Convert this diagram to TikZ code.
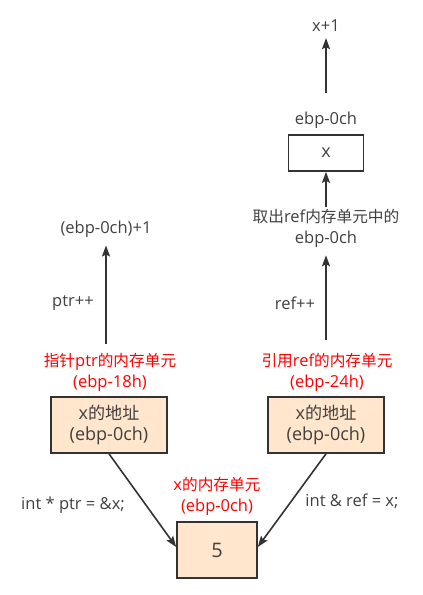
\documentclass[tikz,border=0pt]{standalone}
\usepackage{fontspec}
\setmainfont{Open Sans}
\newfontfamily\cjk[Scale=0.95]{Noto Sans CJK SC}
\usepackage{tikz}
\usetikzlibrary{arrows.meta,positioning}
\definecolor{cellfill}{HTML}{FFE6CC}
\definecolor{linegray}{HTML}{333333}
\definecolor{textgray}{HTML}{404040}
\tikzset{
  cell/.style={draw=linegray, line width=1.6pt, fill=cellfill, minimum width=116pt, minimum height=56pt, align=center, text=textgray, font=\fontsize{18}{21}\selectfont},
  plain/.style={draw=linegray, line width=1.6pt, fill=white, minimum width=75pt, minimum height=36pt, text=textgray, font=\fontsize{18}{20}\selectfont},
  redlbl/.style={text=red, align=center, font=\fontsize{16.5}{21}\selectfont, inner sep=0pt},
  lbl/.style={text=textgray, align=center, font=\fontsize{16.5}{21}\selectfont, inner sep=0pt},
  arr/.style={draw=linegray, line width=1.6pt, -{Stealth[length=11pt,width=8pt,inset=2pt]}}
}

\begin{document}
\begin{tikzpicture}[x=1pt,y=-1pt]
			\useasboundingbox (0,0) rectangle (423,595);
			
			%%%%% bottom cells %%%%%
			\node[cell] (ptrbox) at (109,425) {x{\cjk 的地址}\\(ebp-0ch)};
			\node[cell] (refbox) at (326,425) {x{\cjk 的地址}\\(ebp-0ch)};
			\node[cell, minimum width=80pt] (xbox) at (217,550) {\fontsize{20}{20}\selectfont 5};
			
			\node[redlbl] (ptrlbl) at (110,372) {{\cjk 指针}ptr{\cjk 的内存单元}\\(ebp-18h)};
			\node[redlbl] (reflbl) at (327,372) {{\cjk 引用}ref{\cjk 的内存单元}\\(ebp-24h)};
			\node[redlbl] (xlbl) at (217,496) {x{\cjk 的内存单元}\\(ebp-0ch)};
			
			\node[lbl] (ptrcode) at (73,505) {int * ptr = \&x;};
			\node[lbl] (refcode) at (352,501) {int \& ref = x;};
			
			\draw[arr] (ptrbox.south) -- ([yshift=3pt]xbox.west);
			\draw[arr] (refbox.south) -- ([yshift=3pt]xbox.east);
			
			%%%%% left column %%%%%
			\node[lbl] (ptrinc) at (73,303) {ptr++};
			\node[lbl] (ptrres) at (106,229) {(ebp-0ch)+1};
			\coordinate (ptrfoot) at (106,344);
			\draw[arr] (ptrfoot) -- ([yshift=-8pt]ptrres.south);
			
			%%%%% right column %%%%%
			\node[lbl] (refinc) at (295,303) {ref++};
			\node[lbl] (refget) at (326,228) {{\cjk 取出}ref{\cjk 内存单元中的}\\ebp-0ch};
			\coordinate (reffoot) at (326,340);
			\draw[arr] (reffoot) -- ([yshift=-8pt]refget.south);
			
			\node[plain] (xcell) at (326,153) {x};
			\node[lbl] (xaddr) at (326,120) {ebp-0ch};
			\draw[arr] ([yshift=2pt]refget.north) -- (xcell.south);
			
			\node[lbl] (xplus) at (326,26) {x+1};
			\coordinate (xtop) at (326,93);
			\draw[arr] (xtop) -- ([yshift=-6pt]xplus.south);
			
		\end{tikzpicture}
\end{document}
